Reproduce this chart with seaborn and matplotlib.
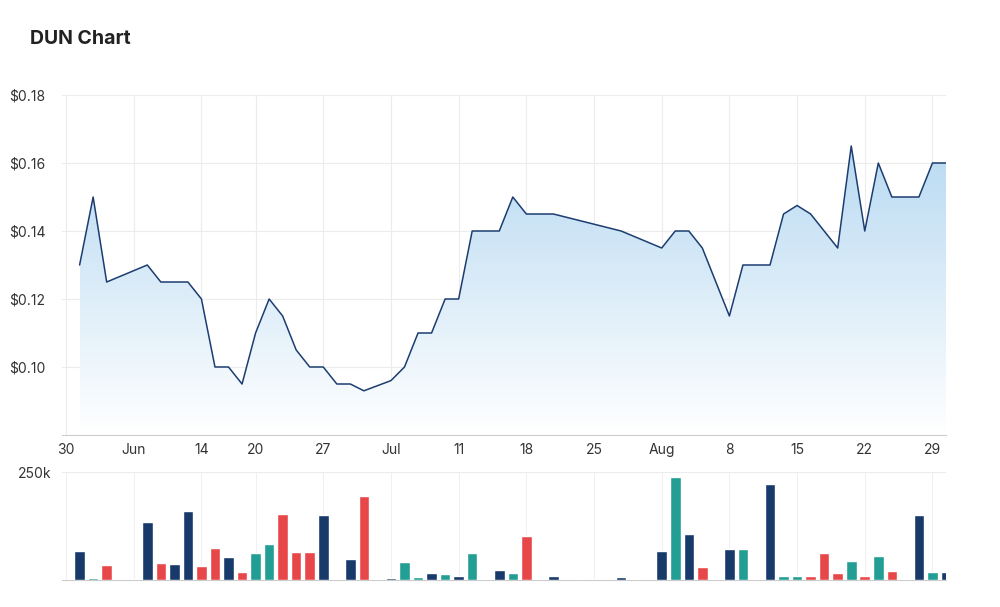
import numpy as np
import matplotlib
matplotlib.use("Agg")
import matplotlib.pyplot as plt
from matplotlib.patches import Polygon
from matplotlib.colors import LinearSegmentedColormap
import seaborn as sns

# trading-day index (0 = 30 May) and closing price at each traded day
price_idx = [1, 2, 3, 6, 7, 9, 10, 11, 12, 13, 14, 15, 16, 17, 18, 19, 20, 21, 22, 24,
             25, 26, 27, 28, 29, 30, 32, 33, 34, 36, 41, 44, 45, 46, 47, 49, 50, 52,
             53, 54, 55, 57, 58, 59, 60, 61, 63, 64, 65]
price = [0.13, 0.15, 0.125, 0.13, 0.125, 0.125, 0.12, 0.10, 0.10, 0.095, 0.11, 0.12,
         0.115, 0.105, 0.10, 0.10, 0.095, 0.095, 0.093, 0.096, 0.10, 0.11, 0.11, 0.12,
         0.12, 0.14, 0.14, 0.15, 0.145, 0.145, 0.14, 0.135, 0.14, 0.14, 0.135, 0.115,
         0.13, 0.13, 0.145, 0.1475, 0.145, 0.135, 0.165, 0.14, 0.16, 0.15, 0.15, 0.16, 0.16]

# daily volume (thousands), days 1..65, with bar colour code
vol = [67, 5, 35, 2, 2, 134, 39, 37, 160, 32, 74, 53, 19, 62, 83, 153, 65, 65, 150, 2,
       49, 194, 2, 5, 42, 7, 16, 14, 9, 62, 2, 23, 16, 102, 2, 9, 2, 2, 2, 2, 7, 2, 2,
       67, 238, 106, 30, 2, 72, 72, 2, 222, 9, 9, 9, 62, 16, 44, 9, 56, 21, 2, 150, 18, 18]
vol_kind = ["d", "t", "r", "d", "d", "d", "r", "d", "d", "r",
            "r", "d", "r", "t", "t", "r", "r", "r", "d", "r",
            "d", "r", "d", "d", "t", "t", "d", "t", "d", "t",
            "d", "d", "t", "r", "d", "d", "d", "d", "d", "d",
            "d", "d", "d", "d", "t", "d", "r", "d", "d", "t",
            "d", "d", "t", "t", "r", "r", "r", "t", "r", "t",
            "r", "d", "d", "t", "d"]
vol_days = list(range(1, 66))

tick_pos = [0, 5, 10, 14, 19, 24, 29, 34, 39, 44, 49, 54, 59, 64]
tick_lab = ["30", "Jun", "14", "20", "27", "Jul", "11", "18", "25", "Aug", "8", "15", "22", "29"]

colors = {"d": "#173a6b", "t": "#229e94", "r": "#e84749"}

sns.set_style("white")
plt.rcParams["font.family"] = ["Inter", "DejaVu Sans"]

fig = plt.figure(figsize=(10, 6.07), dpi=100)
ax = fig.add_axes([0.062, 1 - 435 / 607, 0.884, 340 / 607])
axv = fig.add_axes([0.062, 1 - 580 / 607, 0.884, 108 / 607], sharex=ax)

fig.text(0.03, 1 - 39 / 607, "DUN Chart", fontsize=14, fontweight="bold",
         color="#222222", va="center")

# price line with gradient fill
ax.plot(price_idx, price, color="#1c3d70", lw=1.1, zorder=3)
ymin, ymax = 0.08, 0.18
cmap = LinearSegmentedColormap.from_list("g", ["#ffffff", "#b9daf2"])
grad = np.linspace(0, 1, 256).reshape(-1, 1)
im = ax.imshow(grad, cmap=cmap, aspect="auto", origin="lower",
               extent=[price_idx[0], price_idx[-1], ymin, 0.165], zorder=1)
poly = Polygon(list(zip(price_idx, price)) + [(price_idx[-1], ymin), (price_idx[0], ymin)],
               closed=True, transform=ax.transData, facecolor="none", edgecolor="none")
ax.add_patch(poly)
im.set_clip_path(poly)

ax.set_ylim(ymin, ymax)
ax.set_yticks([0.10, 0.12, 0.14, 0.16, 0.18])
ax.set_yticklabels(["$0.10", "$0.12", "$0.14", "$0.16", "$0.18"])
ax.set_xlim(-0.3, 65)
ax.set_xticks(tick_pos)
ax.set_xticklabels(tick_lab)
ax.grid(True, color="#ececec", lw=0.8)
for s in ["top", "right", "left"]:
    ax.spines[s].set_visible(False)
ax.spines["bottom"].set_color("#cccccc")
ax.tick_params(axis="y", length=0, labelsize=10, colors="#333333", pad=8)
ax.tick_params(axis="x", length=0, labelsize=10, colors="#333333", pad=6)
for lab in ax.get_yticklabels():
    lab.set_horizontalalignment("left")
    lab.set_x(-0.047)

# volume bars
axv.bar(vol_days, vol, width=0.78, color=[colors[k] for k in vol_kind], zorder=3)
axv.set_ylim(0, 250)
axv.set_yticks([250])
axv.set_yticklabels(["250k"])
axv.set_xlim(-0.3, 65)
axv.grid(True, axis="x", color="#f0f0f0", lw=0.8)
axv.axhline(250, color="#ececec", lw=0.8)
for s in ["top", "right", "left"]:
    axv.spines[s].set_visible(False)
axv.spines["bottom"].set_color("#cccccc")
axv.tick_params(axis="y", length=0, labelsize=10, colors="#333333", pad=8)
axv.tick_params(axis="x", length=0, labelbottom=False)
for lab in axv.get_yticklabels():
    lab.set_horizontalalignment("left")
    lab.set_x(-0.037)
axv.set_xticks(tick_pos)

fig.savefig("out.png", dpi=100)
